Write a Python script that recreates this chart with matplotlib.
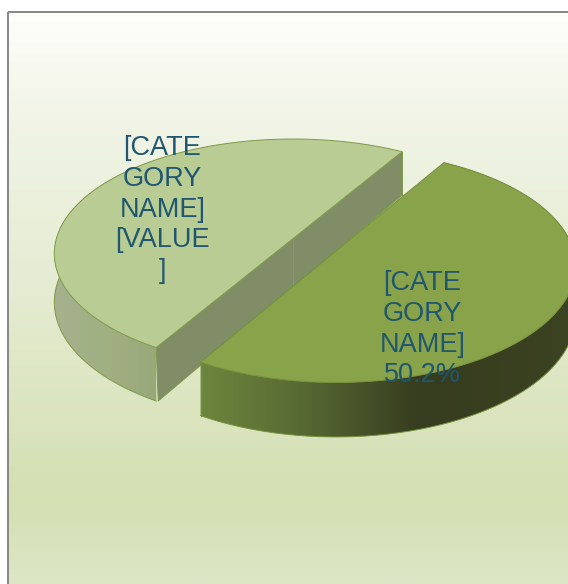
import numpy as np
import matplotlib
matplotlib.use("Agg")
import matplotlib.pyplot as plt
from matplotlib.colors import LinearSegmentedColormap
from matplotlib.patches import Polygon, Rectangle

# --- data -----------------------------------------------------------------
slice_values = [49.8, 50.2]
label_lines = [["[CATE", "GORY", "NAME]", "[VALUE", "]"],
               ["[CATE", "GORY", "NAME]", "50.2%"]]

# --- style ----------------------------------------------------------------
W, H = 568, 584
start_angle = 59.5
right_slice_turn = 0.5     # small turn of the exploded slice, from the reference
persp = 0.119
depth = 48.0
centers = [(293, 240), (336, 252.5)]
radii = [(237, 113), (238, 114.5)]
top_colors = ["#b9cc93", "#88a34a"]
edge_colors = ["#7f9a48", "#75903c"]
cut_color = "#808d67"
text_color = "#1f5670"
side_stops = [
    [(40, "#a6b290"), (110, "#a1af82"), (175, "#96a676")],
    [(185, "#708a3e"), (300, "#586a34"), (420, "#363c1e"), (580, "#3c4322")],
]
bg_stops = [(11, "#fefffb"), (120, "#f1f4e6"), (300, "#e4ebd0"), (500, "#d4dfb2"), (584, "#dde6c6")]
label_xy = [(162.5, 148), (422.5, 283)]
line_step = 30.8


def project(t_deg, idx, drop=0.0):
    t = np.radians(np.asarray(t_deg, dtype=float))
    X, Y = np.cos(t), np.sin(t)
    f = 1.0 + persp * Y
    cx, cy = centers[idx]
    a, b = radii[idx]
    return cx + a * X / f, cy - b * Y / f + drop * depth / f


def gradient(ax, stops, x0, x1, y0, y1, vertical, clip):
    lo, hi = stops[0][0], stops[-1][0]
    cm = LinearSegmentedColormap.from_list("g", [((p - lo) / (hi - lo), c) for p, c in stops])
    arr = np.linspace(0, 1, 256)
    arr = arr[:, None] if vertical else arr[None, :]
    if vertical:
        ext = (x0, x1, hi, lo)
    else:
        ext = (lo, hi, y1, y0)
    im = ax.imshow(arr, cmap=cm, extent=ext, aspect="auto", interpolation="bilinear", zorder=clip[1])
    im.set_clip_path(clip[0])


fig = plt.figure(figsize=(W / 100, H / 100), dpi=100)
ax = fig.add_axes([0, 0, 1, 1])
ax.axis("off")

# background panel
panel = Rectangle((8, 12), W, H, transform=ax.transData, fc="none", ec="none")
ax.add_patch(panel)
gradient(ax, bg_stops, 8, W + 5, 12, H, True, (panel, 1))
ax.add_patch(Rectangle((8, 12), W + 20, H + 20, fc="none", ec="#868686", lw=1.4, zorder=2))

# slices
sweeps = np.array(slice_values) / sum(slice_values) * 360.0
angle = start_angle
z = 3
for i, sweep in enumerate(sweeps):
    turn = right_slice_turn if i == 1 else 0.0
    ts = np.linspace(angle + turn, angle + sweep + turn, 300)
    x_top, y_top = project(ts, i)
    x_low, y_low = project(ts, i, 1.0)

    # outer side wall
    side_poly = Polygon(np.column_stack([np.r_[x_top, x_low[::-1]], np.r_[y_top, y_low[::-1]]]),
                        closed=True, fc="none", ec="none", zorder=z)
    ax.add_patch(side_poly)
    gradient(ax, side_stops[i], 0, W, 0, H, False, (side_poly, z))
    ax.plot(x_low, y_low, color=edge_colors[i], lw=0.7, zorder=z + 0.1)
    ax.plot([x_top[0], x_low[0]], [y_top[0], y_low[0]], color=edge_colors[i], lw=0.7, zorder=z + 0.1)

    # straight cut face (visible on the first slice only)
    if i == 0:
        cut = np.column_stack([[x_top[0], x_top[-1], x_low[-1] + 2, x_low[0]],
                               [y_top[0], y_top[-1], y_low[-1], y_low[0]]])
        ax.add_patch(Polygon(cut, closed=True, fc=cut_color, ec=edge_colors[i], lw=0.7, zorder=z + 0.2))
        cx0, cy0 = centers[i]
        ax.plot([cx0, cx0], [cy0, cy0 + depth], color="#8a9a6a", lw=0.7, zorder=z + 0.3)

    # top face
    ax.add_patch(Polygon(np.column_stack([x_top, y_top]), closed=True,
                         fc=top_colors[i], ec=edge_colors[i], lw=0.7, zorder=z + 0.4))

    # label
    lx, ly = label_xy[i]
    for n, line in enumerate(label_lines[i]):
        ax.text(lx, ly + n * line_step, line, ha="center", va="center", color=text_color,
                fontsize=19.5, family="Liberation Sans", zorder=20)
    angle += sweep
    z += 1

ax.set_xlim(0, W)
ax.set_ylim(H, 0)
fig.savefig("out.png", dpi=100, facecolor="white")
